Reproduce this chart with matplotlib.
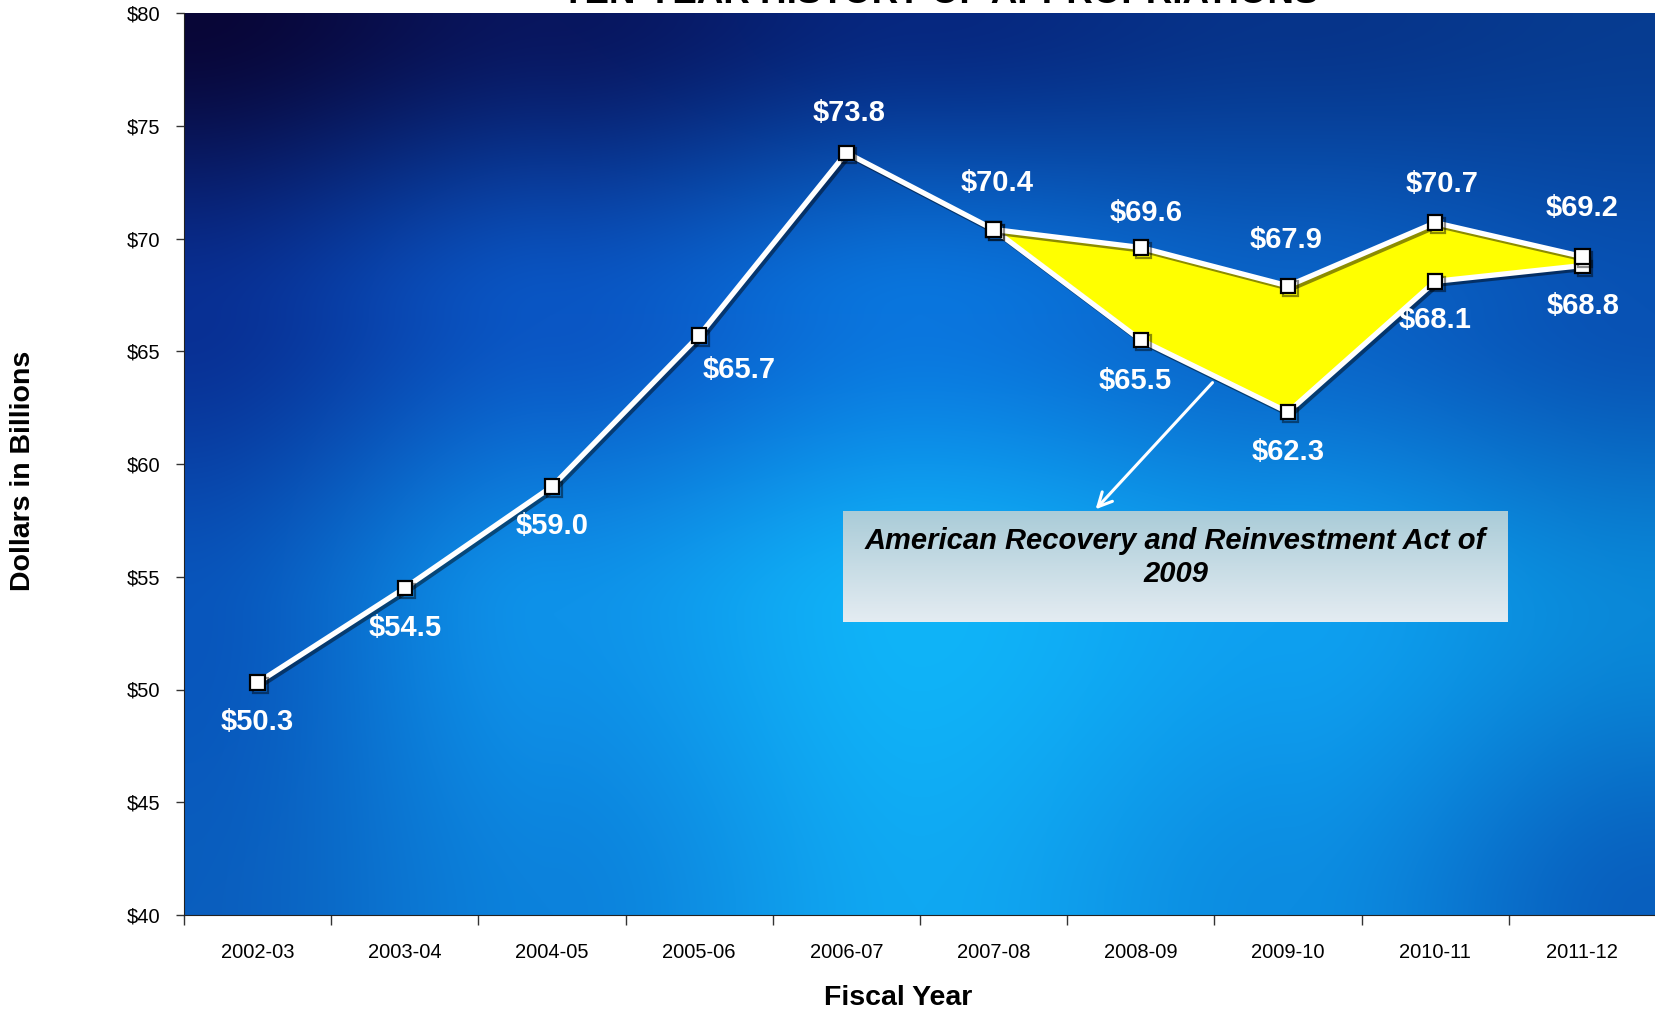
import numpy as np
import matplotlib
matplotlib.use("Agg")
import matplotlib.pyplot as plt
from matplotlib import patheffects as pe

plt.rcParams['font.family'] = ['Liberation Sans', 'DejaVu Sans']

# ---- data ----
years = ["2002-03", "2003-04", "2004-05", "2005-06", "2006-07",
         "2007-08", "2008-09", "2009-10", "2010-11", "2011-12"]
with_arra = [50.3, 54.5, 59.0, 65.7, 73.8, 70.4, 69.6, 67.9, 70.7, 69.2]
without_arra_start = 5
without_arra = [70.4, 65.5, 62.3, 68.1, 68.8]
y_ticks = [40, 45, 50, 55, 60, 65, 70, 75, 80]
title = "TEN-YEAR HISTORY OF APPROPRIATIONS"
note = "American Recovery and Reinvestment Act of\n2009"

# label offsets (pixels)
upper_off = [(0, -39), (0, -40), (0, -39), (40, -35), (3, 40),
             (4, 46), (5, 35), (-2, 46), (7, 39), (0, 49)]
lower_off = [None, (-6, -41), (0, -40), (0, -39), (1, -40)]

W, H = 1656, 1015
fig = plt.figure(figsize=(W / 100, H / 100), dpi=100)
ax = fig.add_axes([184 / W, 1 - 915 / H, 1 - 184 / W, (915 - 13) / H])

# ---- background gradient ----
grid = np.array([
    [(8, 6, 55), (8, 22, 95), (6, 40, 128), (6, 52, 138), (6, 60, 145)],
    [(8, 48, 148), (10, 86, 196), (10, 118, 222), (10, 100, 200), (8, 82, 180)],
    [(8, 86, 188), (14, 146, 233), (16, 180, 248), (14, 160, 240), (10, 136, 216)],
    [(10, 94, 190), (12, 130, 220), (16, 168, 242), (12, 140, 225), (8, 95, 190)],
], dtype=float) / 255.0
Hh, Ww = 300, 500
gh, gw = grid.shape[:2]
yy = np.linspace(0, gh - 1, Hh)[:, None]
xx = np.linspace(0, gw - 1, Ww)[None, :]
y0 = np.clip(np.floor(yy).astype(int), 0, gh - 2)
x0 = np.clip(np.floor(xx).astype(int), 0, gw - 2)
fy = yy - y0
fx = xx - x0
fy = fy * fy * (3 - 2 * fy)
fx = fx * fx * (3 - 2 * fx)
y0b = np.broadcast_to(y0, (Hh, Ww))
x0b = np.broadcast_to(x0, (Hh, Ww))
fyb = np.broadcast_to(fy, (Hh, Ww))[..., None]
fxb = np.broadcast_to(fx, (Hh, Ww))[..., None]
bg = (grid[y0b, x0b] * (1 - fyb) * (1 - fxb) + grid[y0b + 1, x0b] * fyb * (1 - fxb)
      + grid[y0b, x0b + 1] * (1 - fyb) * fxb + grid[y0b + 1, x0b + 1] * fyb * fxb)
ax.imshow(bg, extent=(-0.5, len(years) - 0.5, y_ticks[0], y_ticks[-1]),
          aspect='auto', interpolation='bilinear', zorder=0)

x_all = np.arange(len(years))
x_low = np.arange(without_arra_start, without_arra_start + len(without_arra))

# yellow area
ax.fill_between(x_low, with_arra[without_arra_start:], without_arra,
                color='#ffff00', zorder=2, lw=0)

shadow = [pe.SimpleLineShadow(offset=(2, -2), shadow_color='k', alpha=0.45), pe.Normal()]
ax.plot(x_low, without_arra, color='white', lw=3.8, zorder=3, path_effects=shadow,
        marker='s', markersize=10.5, markerfacecolor='white',
        markeredgecolor='black', markeredgewidth=1.6)
ax.plot(x_all, with_arra, color='white', lw=3.8, zorder=4, path_effects=shadow,
        marker='s', markersize=10.5, markerfacecolor='white',
        markeredgecolor='black', markeredgewidth=1.6)

lab_kw = dict(textcoords='offset pixels', ha='center', va='center', color='white',
              fontsize=21, fontweight='bold', zorder=6)
for i, v in enumerate(with_arra):
    ax.annotate(f"${v:.1f}", (x_all[i], v), xytext=upper_off[i], **lab_kw)
for i, v in enumerate(without_arra):
    if lower_off[i] is not None:
        ax.annotate(f"${v:.1f}", (x_low[i], v), xytext=lower_off[i], **lab_kw)

# arrow to note
ax.annotate("", xy=(5.68, 57.9), xytext=(6.5, 63.7),
            arrowprops=dict(arrowstyle='->', color='white', lw=2.2,
                            mutation_scale=25), zorder=5)

ax.set_xlim(-0.5, len(years) - 0.5)
ax.set_ylim(y_ticks[0], y_ticks[-1])
ax.set_xticks(np.arange(-0.5, len(years)), labels=[''] * (len(years) + 1))
ax.set_xticks(x_all, labels=years, minor=True)
ax.tick_params(axis='x', which='major', length=7, width=1, color='#333333')
ax.tick_params(axis='x', which='minor', length=0, pad=20, labelsize=14.5)
ax.set_yticks(y_ticks, labels=[f"${t}" for t in y_ticks])
ax.tick_params(axis='y', length=6, width=1, color='#333333', pad=11, labelsize=14.5)
for s in ['top', 'right']:
    ax.spines[s].set_visible(False)
for s in ['left', 'bottom']:
    ax.spines[s].set_color('#222222')

fig.text(898 / W, 1 - 998 / H, "Fiscal Year", ha='center', va='center',
         fontsize=20.5, fontweight='bold')
fig.text(23 / W, 1 - 471 / H, "Dollars in Billions", ha='center', va='center',
         rotation=90, fontsize=20.5, fontweight='bold')
fig.text(940 / W, 1 - 3.3 / H, title, ha='center', va='baseline',
         fontsize=26.5, fontweight='bold')

# note box
bax = fig.add_axes([843 / W, 1 - 622 / H, (1508 - 843) / W, (622 - 511) / H])
top_c = np.array([170, 204, 216]) / 255.0
bot_c = np.array([228, 236, 242]) / 255.0
t = np.linspace(0, 1, 100)[:, None]
box_grad = (top_c * (1 - t) + bot_c * t)[:, None, :].repeat(2, axis=1)
bax.imshow(box_grad, aspect='auto', extent=(0, 1, 0, 1))
bax.set_xlim(0, 1)
bax.set_ylim(0, 1)
bax.axis('off')
bax.text(0.5, 0.58, note, ha='center', va='center', fontsize=21,
         fontweight='bold', fontstyle='italic', color='black', linespacing=1.2)

fig.savefig("out.png", dpi=100)
